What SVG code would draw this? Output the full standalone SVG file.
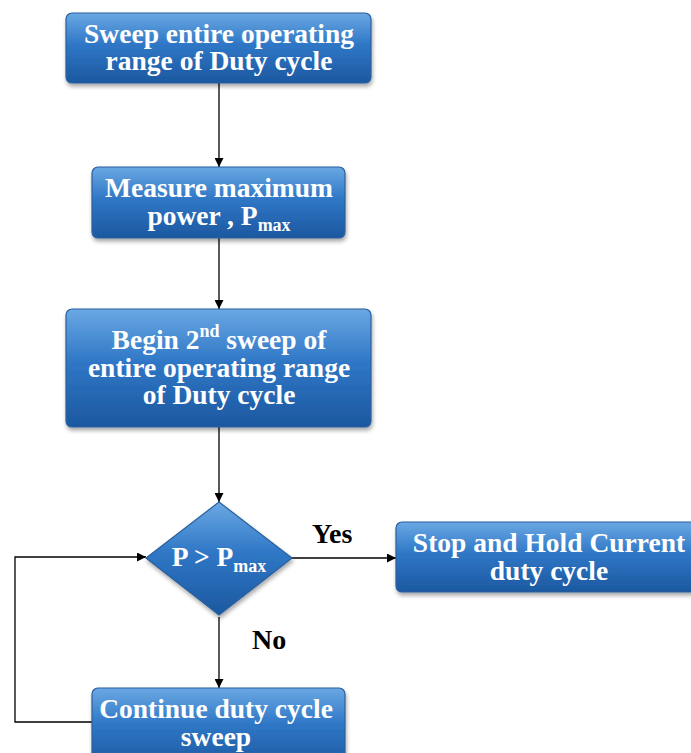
<svg xmlns="http://www.w3.org/2000/svg" width="691" height="753" viewBox="0 0 691 753">
  <style>
    .node { fill: url(#blueGrad); stroke: #2a5f9e; stroke-width: 1.2; filter: url(#shadow); }
    .label { font-family: "Liberation Serif", "Times New Roman", serif; font-weight: bold; font-size: 27.5px; fill: #ffffff; text-anchor: middle; }
    .sub { font-size: 18px; }
    .edge { fill: none; stroke: #000000; stroke-width: 1.3; }
    .edge-label { font-family: "Liberation Serif", "Times New Roman", serif; font-weight: bold; font-size: 28px; fill: #000000; }
  </style>
  <defs>
    <linearGradient id="blueGrad" x1="0" y1="0" x2="0" y2="1">
      <stop offset="0" stop-color="#6aa8e3"/>
      <stop offset="0.45" stop-color="#2f77c6"/>
      <stop offset="1" stop-color="#1c58a0"/>
    </linearGradient>
    <filter id="shadow" x="-10%" y="-10%" width="120%" height="130%">
      <feGaussianBlur in="SourceAlpha" stdDeviation="2"/>
      <feOffset dx="1" dy="3" result="b"/>
      <feComponentTransfer><feFuncA type="linear" slope="0.35"/></feComponentTransfer>
      <feMerge><feMergeNode/><feMergeNode in="SourceGraphic"/></feMerge>
    </filter>
    <marker id="arrow" viewBox="0 0 10 10" refX="10" refY="5" markerWidth="9" markerHeight="9" markerUnits="userSpaceOnUse" orient="auto">
      <path d="M0,0 L10,5 L0,10 z" fill="#000000"/>
    </marker>
  </defs>

  <g id="connectors">
    <line class="edge" x1="219" y1="83" x2="219" y2="167" marker-end="url(#arrow)"/>
    <line class="edge" x1="219" y1="238" x2="219" y2="309" marker-end="url(#arrow)"/>
    <line class="edge" x1="219" y1="427" x2="219" y2="502" marker-end="url(#arrow)"/>
    <line class="edge" x1="292" y1="558" x2="396" y2="558" marker-end="url(#arrow)"/>
    <line class="edge" x1="219" y1="617" x2="219" y2="688" marker-end="url(#arrow)"/>
    <polyline class="edge" points="92,722 15,722 15,557 146,557" marker-end="url(#arrow)"/>
    <text class="edge-label" x="312" y="543">Yes</text>
    <text class="edge-label" x="252" y="649">No</text>
  </g>

  <g id="sweep-range">
    <rect class="node" x="66" y="13" width="305" height="70" rx="6"/>
    <text class="label" x="219" y="43">Sweep entire operating</text>
    <text class="label" x="219" y="70">range of Duty cycle</text>
  </g>

  <g id="measure-pmax">
    <rect class="node" x="92" y="167" width="253" height="71" rx="6"/>
    <text class="label" x="219" y="197">Measure maximum</text>
    <text class="label" x="219" y="225">power , P<tspan class="sub" dy="6">max</tspan></text>
  </g>

  <g id="second-sweep">
    <rect class="node" x="66" y="309" width="305" height="118" rx="6"/>
    <text class="label" x="219" y="349">Begin 2<tspan class="sub" dy="-12">nd</tspan><tspan dy="12"> sweep of</tspan></text>
    <text class="label" x="219" y="377">entire operating range</text>
    <text class="label" x="219" y="404">of Duty cycle</text>
  </g>

  <g id="compare">
    <polygon class="node" points="219,502 292,558 219,615 146,558"/>
    <text class="label" x="219" y="566">P &gt; P<tspan class="sub" dy="6">max</tspan></text>
  </g>

  <g id="stop-hold">
    <rect class="node" x="396" y="522" width="300" height="70" rx="6"/>
    <text class="label" x="549" y="552">Stop and Hold Current</text>
    <text class="label" x="549" y="580">duty cycle</text>
  </g>

  <g id="continue-sweep">
    <rect class="node" x="92" y="688" width="253" height="80" rx="6"/>
    <text class="label" x="216" y="718">Continue duty cycle</text>
    <text class="label" x="216" y="746">sweep</text>
  </g>
</svg>
